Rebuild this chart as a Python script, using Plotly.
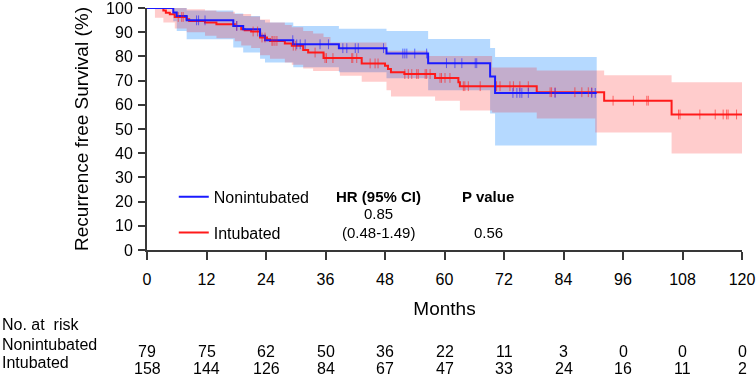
#!/usr/bin/env python3
# -*- coding: utf-8 -*-
"""Kaplan-Meier style recurrence free survival plot, nonintubated vs intubated"""

from bisect import bisect_right

import plotly.graph_objects as go

# Nonintubated: step curve (months, survival %) and 95% CI
ni_t = [0, 5.3, 6.0, 8.0, 17.4, 19.4, 22.8, 23.8, 29.5, 38.7, 48.3, 56.7, 69.2, 70.2, 90.7]
ni_s = [100, 98.1, 96.7, 94.9, 92.6, 91.2, 88.5, 86.7, 85.0, 83.4, 81.2, 77.2, 71.7, 64.9, 64.9]
ni_lo = [100, 94.5, 90.5, 87.1, 83.7, 81.6, 79.0, 77.5, 75.5, 73.5, 71.0, 66.0, 56.4, 43.2, 43.2]
ni_hi = [100, 100, 100, 99.0, 97.7, 96.7, 95.0, 94.0, 92.6, 91.4, 90.5, 87.2, 83.5, 79.8, 79.8]
ni_cens = [10.0, 10.4, 11.7, 18.1, 29.4, 30.2, 30.9, 31.9, 34.9, 36.6, 39.5, 40.3, 42.0, 42.6,
           47.7, 51.6, 52.0, 52.4, 54.0, 56.4, 60.4, 62.1, 63.5, 66.2, 66.5, 73.8, 74.6, 75.2,
           75.6, 76.9, 82.3, 89.7, 90.4]

# Intubated: step curve and 95% CI
in_t = [0, 3.3, 3.8, 4.6, 5.6, 8.0, 8.5, 11.7, 14.0, 17.7, 19.0, 19.7, 21.0, 22.8, 24.2, 24.8,
        27.8, 29.2, 31.5, 32.5, 35.6, 43.3, 48.0, 48.6, 49.2, 51.9, 58.1, 62.8, 63.1, 78.6,
        92.2, 105.8, 120.2]
in_s = [100, 99.0, 98.0, 97.4, 96.3, 95.3, 94.6, 94.0, 93.3, 92.6, 91.2, 90.8, 90.3, 87.8, 87.1,
        86.4, 85.3, 84.4, 82.6, 81.6, 79.3, 77.1, 76.1, 74.8, 73.4, 72.7, 71.1, 69.3, 67.7,
        65.2, 61.7, 56.0, 56.0]
in_ci_t = [0, 1.6, 3.3, 5.6, 8.0, 11.7, 14.0, 17.7, 19.0, 21.0, 22.8, 24.8, 27.8, 29.2, 31.5,
           33.5, 35.6, 37.0, 38.9, 43.3, 48.3, 49.2, 56.7, 58.1, 63.1, 69.6, 78.6, 90.4, 92.2,
           105.8, 120.2]
in_lo = [100, 96, 94, 91.5, 90, 88.5, 87.5, 86.3, 84.5, 83.5, 80.5, 79, 77.5, 76.5, 75, 74, 74,
         74, 72, 69.5, 66, 63.4, 63.4, 61.7, 57.6, 56.8, 54.3, 48.6, 48.6, 39.9, 39.9]
in_hi = [100, 100, 100, 100, 99.5, 99, 98.5, 97.5, 97.5, 96.5, 95.2, 94, 93, 92, 90.5, 89.5, 88,
         85.7, 85.7, 85.7, 82.3, 82.3, 80.2, 80.2, 80.2, 75.4, 74.2, 74.2, 72.2, 69.3, 69.3]
in_cens = [6.3, 7.0, 7.3, 18.1, 21.4, 22.3, 23.2, 23.8, 25.2, 25.4, 25.8, 26.2, 29.5, 30.0,
           33.9, 35.9, 36.2, 37.5, 41.3, 41.5, 42.3, 45.0, 46.0, 46.6, 52.0, 52.7, 53.4, 54.4,
           54.7, 56.1, 56.4, 57.1, 59.1, 59.4, 60.1, 61.1, 63.8, 64.1, 64.8, 67.2, 70.5, 71.2,
           73.2, 73.9, 75.2, 76.9, 81.3, 81.6, 82.3, 86.3, 87.7, 89.0, 89.7, 94.0, 98.1, 100.8,
           101.1, 107.2, 107.5, 111.5, 114.6, 116.2, 116.9, 117.2, 118.9]

# Number at risk table
risk_months = [0, 12, 24, 36, 48, 60, 72, 84, 96, 108, 120]
risk_ni = [79, 75, 62, 50, 36, 22, 11, 3, 0, 0, 0]
risk_in = [158, 144, 126, 84, 67, 47, 33, 24, 16, 11, 2]

BLUE = '#1a1aff'
RED = '#ff1a1a'
AXIS = '#383838'
FONT = 'Liberation Sans, Arial, sans-serif'


def step_at(ts, vs, t):
    """value of a right-continuous step function at time t"""
    return vs[bisect_right(ts, t) - 1]


fig = go.Figure()

# confidence bands
fig.add_trace(go.Scatter(x=ni_t, y=ni_lo, mode='lines', line=dict(width=0, shape='hv'),
                         showlegend=False, hoverinfo='skip'))
fig.add_trace(go.Scatter(x=ni_t, y=ni_hi, mode='lines', line=dict(width=0, shape='hv'),
                         fill='tonexty', fillcolor='rgba(30,140,255,0.33)',
                         showlegend=False, hoverinfo='skip'))
fig.add_trace(go.Scatter(x=in_ci_t, y=in_lo, mode='lines', line=dict(width=0, shape='hv'),
                         showlegend=False, hoverinfo='skip'))
fig.add_trace(go.Scatter(x=in_ci_t, y=in_hi, mode='lines', line=dict(width=0, shape='hv'),
                         fill='tonexty', fillcolor='rgba(255,0,0,0.2)',
                         showlegend=False, hoverinfo='skip'))

# survival curves
fig.add_trace(go.Scatter(x=in_t, y=in_s, mode='lines', name='Intubated',
                         line=dict(color=RED, width=2, shape='hv'), legendgroup='b', legendrank=2))
fig.add_trace(go.Scatter(x=ni_t, y=ni_s, mode='lines', name='Nonintubated',
                         line=dict(color=BLUE, width=2, shape='hv'), legendgroup='a', legendrank=1))

# censor marks
fig.add_trace(go.Scatter(x=in_cens, y=[step_at(in_t, in_s, t) for t in in_cens], mode='markers',
                         marker=dict(symbol='line-ns', size=7, line=dict(width=1, color=RED)),
                         opacity=0.6, showlegend=False, cliponaxis=False))
fig.add_trace(go.Scatter(x=ni_cens, y=[step_at(ni_t, ni_s, t) for t in ni_cens], mode='markers',
                         marker=dict(symbol='line-ns', size=7, line=dict(width=1, color=BLUE)),
                         opacity=0.6, showlegend=False, cliponaxis=False))

annotations = []
# hazard ratio block
for x, y, txt in [(46.6, 22.2, '<b>HR (95% CI)</b>'), (46.6, 15.2, '0.85'),
                  (46.6, 7.4, '(0.48-1.49)'), (68.8, 22.2, '<b>P value</b>'),
                  (68.8, 7.4, '0.56')]:
    annotations.append(dict(x=x, y=y, xref='x', yref='y', text=txt, showarrow=False,
                            yanchor='middle', font=dict(size=15)))

# at-risk table
for label, y in [('No. at&nbsp; risk', -0.309), ('Nonintubated', -0.391), ('Intubated', -0.465)]:
    annotations.append(dict(x=-0.247, y=y, xref='paper', yref='paper', text=label,
                            xanchor='left', yanchor='middle', showarrow=False))
for m, a, b in zip(risk_months, risk_ni, risk_in):
    annotations.append(dict(x=m, y=-0.42, xref='x', yref='paper', text=str(a),
                            yanchor='middle', showarrow=False))
    annotations.append(dict(x=m, y=-0.49, xref='x', yref='paper', text=str(b),
                            yanchor='middle', showarrow=False))

fig.update_xaxes(range=[0, 120], tickvals=risk_months, showgrid=False, zeroline=False,
                 showline=True, linecolor=AXIS, linewidth=2, ticks='outside', ticklen=8,
                 tickwidth=2, tickcolor=AXIS, ticklabelstandoff=6, automargin=False,
                 ticklabeloverflow='allow',
                 title=dict(text='Months', standoff=14))
fig.update_yaxes(range=[0, 100], dtick=10, showgrid=False, zeroline=False,
                 showline=True, linecolor=AXIS, linewidth=2, ticks='outside', ticklen=7,
                 tickwidth=2, tickcolor=AXIS, ticklabelstandoff=2, automargin=False,
                 ticklabeloverflow='allow',
                 title=dict(text='Recurrence free Survival (%)', standoff=12))
fig.update_layout(
    width=756,
    height=377,
    margin=dict(l=147, r=14, t=8, b=127),
    plot_bgcolor='white',
    paper_bgcolor='white',
    font=dict(family=FONT, size=16, color='black'),
    legend=dict(x=0.045, y=0.29, xanchor='left', yanchor='top', bgcolor='rgba(0,0,0,0)',
                traceorder='grouped', tracegroupgap=12, font=dict(size=16)),
    annotations=annotations,
)

# drop the default page margin so the figure sits in the window corner
fig.write_html("out.html", config={'displayModeBar': False},
               post_script="document.body.style.margin='0';")
